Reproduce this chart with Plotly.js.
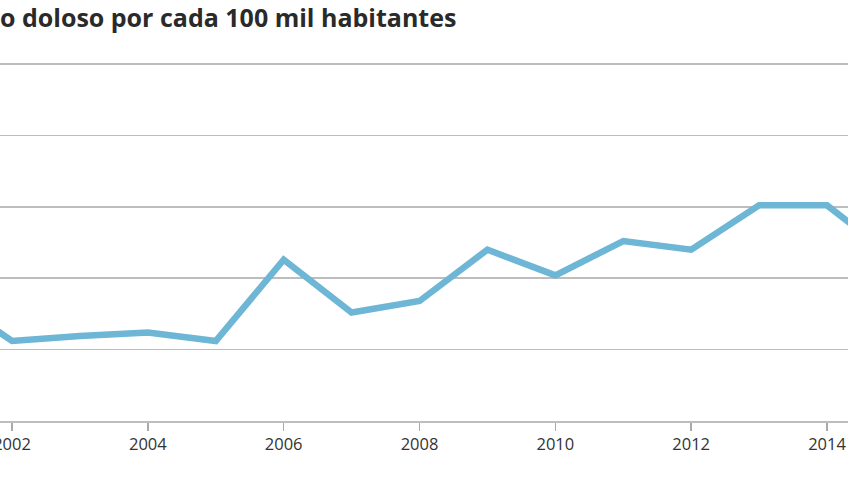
<!DOCTYPE html>
<html>
<head>
<meta charset="utf-8">
<script src="https://cdn.plot.ly/plotly-3.0.1.min.js"></script>
<style>html,body{margin:0;padding:0;background:#fff;}#chart{width:848px;height:477px;}</style>
</head>
<body>
<div id="chart"></div>
<script>
const years = [2001, 2002, 2003, 2004, 2005, 2006, 2007, 2008, 2009, 2010, 2011, 2012, 2013, 2014, 2015];
const rates = [8.9, 5.6, 5.95, 6.2, 5.6, 11.3, 7.6, 8.4, 12.0, 10.2, 12.6, 12.0, 15.1, 15.1, 11.4];
const titleText = "o doloso por cada 100 mil habitantes";
const yTicks = [0, 5, 10, 15, 20, 25];

const trace = {
  x: years, y: rates, type: 'scatter', mode: 'lines',
  line: {color: '#6db6d5', width: 6.5},
  hoverinfo: 'skip'
};
const layout = {
  width: 848, height: 477,
  margin: {l: 0, r: 0, t: 54, b: 56, pad: 0},
  paper_bgcolor: '#fff', plot_bgcolor: '#fff',
  showlegend: false,
  title: {text: titleText, x: 0, xref: 'paper', xanchor: 'left', y: 0.962, yanchor: 'middle',
          font: {family: 'Open Sans, sans-serif', size: 25, color: '#2a2a2a', weight: 700}},
  xaxis: {range: [2001.823, 2014.309], tick0: 2002, dtick: 2, showgrid: false, zeroline: false,
          ticks: 'outside', ticklen: 8, tickwidth: 1.5, tickcolor: '#aaa',
          showline: true, linecolor: '#bdbdbd', linewidth: 1.5,
          ticklabeloverflow: 'allow',
          tickfont: {family: 'Open Sans, sans-serif', size: 16.5, color: '#333'}},
  yaxis: {range: [0, 25.7], tickvals: yTicks, showticklabels: false, showgrid: true,
          gridcolor: '#bdbdbd', gridwidth: 1.5, zeroline: false, showline: false, ticks: ''}
};
Plotly.newPlot('chart', [trace], layout, {displayModeBar: false, staticPlot: true});
</script>
</body>
</html>
